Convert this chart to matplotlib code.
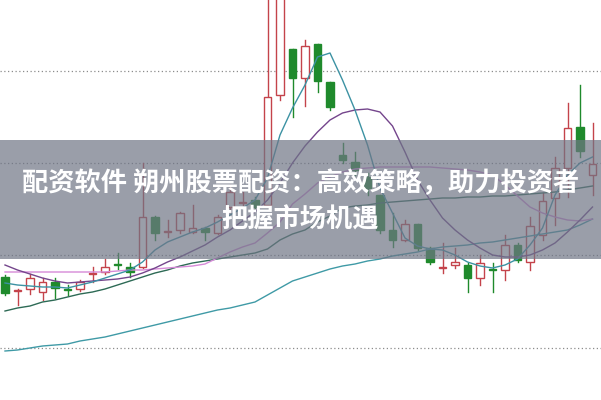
import matplotlib
matplotlib.use("Agg")
import matplotlib.pyplot as plt
from matplotlib.patches import Rectangle

plt.rcParams['font.family'] = ['Noto Sans CJK SC', 'DejaVu Sans']

# 日K线 (open, high, low, close)
opens = [12.3, 10.9, 11.1, 10.8, 11.8, 11.15, 11.1, 12.65, 12.8, 13.65,
         13.3, 13.3, 18.3, 16.85, 17.0, 16.8, 17.2, 16.7, 19.3, 19.75,
         20.0, 19.5, 30.5, 35.1, 32.2, 35.6, 31.8, 24.5, 23.8, 22.3,
         20.5, 17.0, 16.0, 17.6, 15.2, 13.25, 13.5, 13.5, 12.2, 13.15,
         13.0, 15.5, 13.8, 16.5, 20.2, 23.2, 27.3, 22.5]
highs = [12.5, 11.1, 12.6, 12.2, 12.2, 11.5, 12.0, 13.3, 14.1, 14.7,
         13.7, 23.7, 18.4, 18.0, 18.8, 19.5, 17.3, 18.5, 21.5, 20.8,
         20.3, 40.5, 43.0, 35.1, 36.0, 35.6, 31.8, 25.7, 24.8, 22.7,
         20.5, 18.7, 18.0, 17.6, 15.3, 15.7, 15.2, 13.7, 14.5, 13.7,
         16.5, 15.7, 18.3, 20.7, 24.3, 29.7, 31.5, 27.7]
lows = [10.5, 9.5, 10.6, 10.0, 10.2, 10.5, 10.9, 11.8, 12.6, 13.1,
        12.3, 13.2, 16.0, 16.3, 16.7, 16.7, 16.0, 16.6, 18.8, 19.4,
        19.2, 19.3, 30.0, 28.3, 29.4, 30.8, 29.0, 23.7, 22.5, 20.5,
        16.7, 15.3, 15.9, 15.0, 13.6, 12.7, 13.2, 10.8, 11.5, 10.8,
        12.0, 13.8, 13.0, 16.0, 17.5, 20.3, 24.3, 20.5]
closes = [10.7, 11.0, 12.2, 11.8, 11.2, 11.05, 11.8, 12.75, 13.3, 13.55,
          12.8, 18.3, 16.7, 16.95, 18.7, 17.2, 16.8, 18.3, 20.8, 19.85,
          19.3, 30.3, 42.0, 32.2, 35.4, 31.9, 29.3, 24.0, 23.0, 21.2,
          17.0, 16.0, 17.6, 15.2, 13.8, 13.35, 13.8, 12.2, 13.7, 13.05,
          15.5, 14.0, 17.4, 19.9, 23.2, 27.2, 24.9, 23.6]

# 均线
ma5 = [11.7, 11.5, 11.4, 11.3, 11.3, 11.2, 11.5, 11.8, 12.2, 12.6,
       13.0, 13.8, 15.0, 15.8, 16.3, 16.8, 17.2, 17.8, 18.5, 19.2,
       20.0, 22.2, 26.5, 29.2, 31.5, 34.3, 34.7, 32.0, 29.0, 25.5,
       21.2, 18.7, 16.2, 15.4, 15.1, 15.0, 14.5, 13.8, 13.4, 13.2,
       13.5, 14.1, 15.5, 17.2, 20.5, 22.5, 23.7, 24.3]
ma10 = [13.5, 13.0, 12.6, 12.2, 11.9, 11.7, 11.8, 11.9, 12.0, 12.1,
        12.3, 12.7, 13.2, 13.8, 14.3, 14.9, 15.5, 16.3, 17.0, 17.9,
        18.8, 20.0, 21.7, 23.7, 25.4, 26.8, 28.0, 28.7, 29.0, 29.1,
        28.8, 27.4, 24.8, 22.0, 20.0, 18.2, 17.0, 16.0, 15.2, 14.5,
        14.3, 14.3, 14.5, 15.0, 15.7, 16.8, 18.0, 19.3]
ma20 = [12.8, 12.8, 12.8, 12.8, 12.8, 12.8, 12.8, 12.8, 12.8, 12.9,
        13.0, 13.0, 13.1, 13.2, 13.3, 13.4, 13.6, 14.2, 14.8, 15.3,
        15.7, 16.7, 17.8, 19.6, 20.6, 21.7, 22.3, 22.8, 23.1, 23.2,
        23.3, 23.3, 23.3, 23.3, 23.3, 23.2, 23.1, 23.0, 22.8, 22.5,
        21.5, 20.4, 19.3, 18.7, 18.3, 18.0, 17.9, 18.1]
ma30 = [8.9, 9.2, 9.4, 9.8, 10.0, 10.3, 10.6, 10.8, 11.1, 11.5,
        11.9, 12.3, 12.7, 13.0, 13.4, 13.7, 13.9, 14.1, 14.3, 14.5,
        14.7, 15.1, 16.0, 16.6, 17.0, 17.8, 18.4, 19.2, 19.4, 19.5,
        19.7, 19.8, 19.9, 20.0, 20.1, 20.2, 20.2, 20.3, 20.3, 20.4,
        20.4, 20.5, 20.6, 20.7, 20.8, 21.0, 21.2, 21.4]
ma60 = [4.9, 5.0, 5.2, 5.4, 5.5, 5.6, 5.9, 6.1, 6.3, 6.6,
        6.9, 7.2, 7.5, 7.8, 8.1, 8.4, 8.7, 9.0, 9.2, 9.5,
        9.8, 10.5, 11.2, 11.9, 12.3, 12.7, 13.1, 13.4, 13.6, 13.9,
        14.1, 14.4, 14.6, 14.8, 15.1, 15.3, 15.4, 15.5, 15.7, 15.8,
        16.0, 16.2, 16.4, 16.6, 16.8, 17.0, 17.5, 18.1]

grid_levels = [5.2, 14.5, 23.7, 32.9]

line1 = "配资软件 朔州股票配资：高效策略，助力投资者"
line2 = "把握市场机遇"

RED = "#c4434b"
GREEN = "#1f8a2c"

fig = plt.figure(figsize=(6.01, 4.0), dpi=100)
ax = fig.add_axes([0, 0, 1, 1])
ax.set_xlim(-0.4, 47.68)
ax.set_ylim(0, 40)
ax.axis('off')

for g in grid_levels:
    ax.axhline(g, color="#8c8c8c", lw=0.9, ls=(0, (1, 2)), zorder=1)

n = len(opens)
xs = range(n)
w = 0.62
for i in xs:
    o, h, l, c = opens[i], highs[i], lows[i], closes[i]
    if c >= o:
        # 阳线: 空心红
        top, bot = c, o
        ax.plot([i, i], [top, h], color=RED, lw=1.0, zorder=3)
        ax.plot([i, i], [l, bot], color=RED, lw=1.0, zorder=3)
        ax.add_patch(Rectangle((i - w / 2, bot), w, max(top - bot, 0.08),
                               facecolor="white", edgecolor=RED, lw=1.0, zorder=4))
    else:
        ax.plot([i, i], [l, h], color=GREEN, lw=1.0, zorder=3)
        ax.add_patch(Rectangle((i - w / 2, c), w, max(o - c, 0.08),
                               facecolor=GREEN, edgecolor=GREEN, lw=1.0, zorder=4))

ax.plot(xs, ma60, color="#3f9aa6", lw=1.0, zorder=5)
ax.plot(xs, ma30, color="#2d6a55", lw=1.0, zorder=5)
ax.plot(xs, ma20, color="#d68ad8", lw=1.0, zorder=5)
ax.plot(xs, ma10, color="#74458c", lw=1.0, zorder=5)
ax.plot(xs, ma5, color="#3c92a3", lw=1.0, zorder=5)

# 标题横幅
ax.axhspan(14.1, 26.0, color="#6f7585", alpha=0.7, lw=0, zorder=8)
fig.text(0.5, 0.542, line1, ha='center', va='center', color='white',
         fontsize=18.9, fontweight='bold', zorder=10)
fig.text(0.5, 0.449, line2, ha='center', va='center', color='white',
         fontsize=18.9, fontweight='bold', zorder=10)

fig.savefig("out.png", dpi=100)
